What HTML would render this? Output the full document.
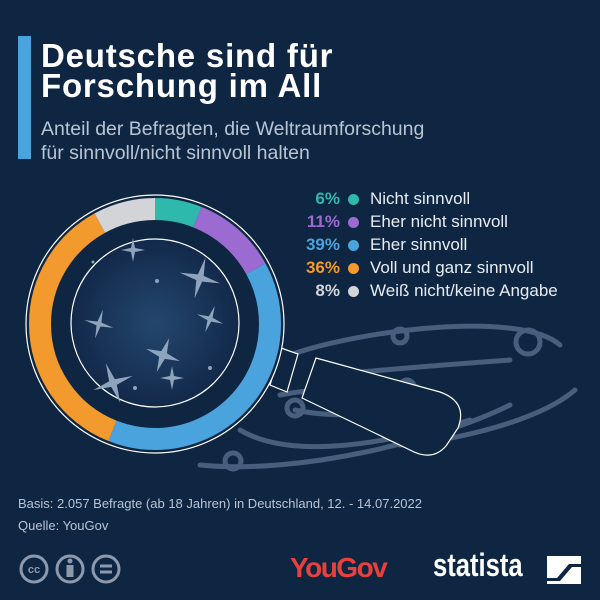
<!DOCTYPE html>
<html><head><meta charset="utf-8"><style>
html,body{margin:0;padding:0}
body{width:600px;height:600px;background:#0f2643;position:relative;overflow:hidden;font-family:"Liberation Sans",sans-serif}
.t{position:absolute;left:41px;color:#fff;font-weight:bold;font-size:33px;line-height:31px;letter-spacing:0.8px}
.s{position:absolute;left:41px;color:#b9c4d3;font-size:19.5px;line-height:24px}
.leg{position:absolute;left:300px;font-size:17px;color:#e8ecf1;height:22px;line-height:22px}
.leg .p{position:absolute;left:0;width:40px;text-align:right;font-weight:bold}
.leg .d{position:absolute;left:48px;top:6px;width:11px;height:11px;border-radius:50%}
.leg .l{position:absolute;left:70px;white-space:nowrap}
.src{position:absolute;left:18px;color:#b9c4d3;font-size:13px;line-height:20px}
</style></head><body>
<div style="position:absolute;left:18px;top:36px;width:13px;height:123px;background:#4aa3dc"></div>
<div class="t" style="top:40px">Deutsche sind für</div>
<div class="t" style="top:70px">Forschung im All</div>
<div class="s" style="top:117px">Anteil der Befragten, die Weltraumforschung</div>
<div class="s" style="top:141px">für sinnvoll/nicht sinnvoll halten</div>

<svg width="600" height="600" style="position:absolute;left:0;top:0">
 <defs><radialGradient id="g" cx="50%" cy="50%" r="50%"><stop offset="0" stop-color="#24476e"/><stop offset="1" stop-color="#12294a"/></radialGradient></defs>
 <g fill="none" stroke="#475e7c" stroke-width="5" stroke-linecap="round">
  <path d="M290 355 C 360 330, 520 310, 560 345"/>
  <path d="M575 390 C 540 420, 460 440, 400 445"/>
  <path d="M330 395 C 350 380, 420 380, 420 390 C 420 415, 340 420, 295 410"/>
  <path d="M280 395 C 330 385, 360 395, 360 410"/>
  <path d="M240 430 C 290 460, 380 445, 470 420"/>
  <path d="M200 465 C 300 475, 440 440, 510 405"/>
  <path d="M330 375 C 380 370, 440 365, 510 360"/>
  <circle cx="400" cy="336" r="7"/><circle cx="528" cy="342" r="12"/><circle cx="407" cy="387" r="7"/>
  <circle cx="295" cy="408" r="8"/><circle cx="233" cy="461" r="8"/>
 </g>
 <path d="M281 348 L298 354 L287 392 L270 385 Z" fill="#0f2643" stroke="#fff" stroke-width="1.2"/>
 <path d="M316 358 L440 392 Q468 402 458 428 L446 446 Q432 462 410 450 L302 398 Z" fill="#0f2643" stroke="#fff" stroke-width="1.2"/>
 <circle cx="155" cy="324" r="129" fill="#0f2643" stroke="#fff" stroke-width="1.2"/>
 <g transform="rotate(-90 155 324)" fill="none" stroke-width="22">
  <circle cx="155" cy="324" r="115" stroke="#2fb8ac" stroke-dasharray="43.4 722.6"/>
  <circle cx="155" cy="324" r="115" stroke="#9b6bd1" stroke-dasharray="0 43.4 79.5 722.6"/>
  <circle cx="155" cy="324" r="115" stroke="#4aa3dc" stroke-dasharray="0 122.9 281.8 722.6"/>
  <circle cx="155" cy="324" r="115" stroke="#f29a2e" stroke-dasharray="0 404.7 260.1 722.6"/>
  <circle cx="155" cy="324" r="115" stroke="#d3d4d8" stroke-dasharray="0 664.8 57.8 722.6"/>
 </g>
 <circle cx="155" cy="323" r="84" fill="url(#g)" stroke="#fff" stroke-width="1.2"/>
 <g fill="#8ea3bc">
  <path d="M160 352 l3 -15 l3 15 l15 3 l-15 3 l-3 15 l-3 -15 l-15 -3 z" transform="rotate(20 163 355)"/>
  <path d="M197 275 l3 -18 l3 18 l18 3 l-18 3 l-3 18 l-3 -18 l-18 -3 z" transform="rotate(15 200 278)"/>
  <path d="M110 380 l3 -18 l3 18 l18 3 l-18 3 l-3 18 l-3 -18 l-18 -3 z" transform="rotate(-20 113 383)"/>
  <path d="M97 322 l2 -13 l2 13 l13 2 l-13 2 l-2 13 l-2 -13 l-13 -2 z" transform="rotate(15 99 324)"/>
  <path d="M208 317 l2 -12 l2 12 l12 2 l-12 2 l-2 12 l-2 -12 l-12 -2 z" transform="rotate(20 210 319)"/>
  <path d="M131 248 l2 -10 l2 10 l10 2 l-10 2 l-2 10 l-2 -10 l-10 -2 z"/>
  <path d="M170 376 l2 -10 l2 10 l10 2 l-10 2 l-2 10 l-2 -10 l-10 -2 z"/>
  <circle cx="157" cy="281" r="2"/><circle cx="210" cy="368" r="2"/><circle cx="135" cy="388" r="2"/><circle cx="93" cy="262" r="1.5"/>
 </g>
</svg>

<div class="leg" style="top:188px"><span class="p" style="color:#2fb8ac">6%</span><span class="d" style="background:#2fb8ac"></span><span class="l">Nicht sinnvoll</span></div>
<div class="leg" style="top:211px"><span class="p" style="color:#9b6bd1">11%</span><span class="d" style="background:#9b6bd1"></span><span class="l">Eher nicht sinnvoll</span></div>
<div class="leg" style="top:234px"><span class="p" style="color:#4aa3dc">39%</span><span class="d" style="background:#4aa3dc"></span><span class="l">Eher sinnvoll</span></div>
<div class="leg" style="top:257px"><span class="p" style="color:#f29a2e">36%</span><span class="d" style="background:#f29a2e"></span><span class="l">Voll und ganz sinnvoll</span></div>
<div class="leg" style="top:280px"><span class="p" style="color:#d3d4d8">8%</span><span class="d" style="background:#d3d4d8"></span><span class="l">Weiß nicht/keine Angabe</span></div>

<div class="src" style="top:494px">Basis: 2.057 Befragte (ab 18 Jahren) in Deutschland, 12. - 14.07.2022</div>
<div class="src" style="top:516px">Quelle: YouGov</div>

<svg width="130" height="40" style="position:absolute;left:14px;top:550px">
 <g fill="none" stroke="#8d9aae" stroke-width="3">
  <circle cx="20" cy="19" r="13"/><circle cx="56" cy="19" r="13"/><circle cx="92" cy="19" r="13"/>
  <path d="M86 16h12M86 22h12"/>
 </g>
 <text x="20" y="23" fill="#8d9aae" font-size="11" font-weight="bold" text-anchor="middle" font-family="Liberation Sans">cc</text>
 <circle cx="56" cy="11" r="2.5" fill="#8d9aae"/><rect x="52.5" y="15" width="7" height="12" fill="#8d9aae"/>
</svg>
<div style="position:absolute;left:290px;top:552px;color:#e8413c;font-weight:bold;font-size:28px;letter-spacing:-1.5px">YouGov</div>
<div style="position:absolute;left:433px;top:547px;color:#fff;font-weight:bold;font-size:32px;transform:scaleX(0.8);transform-origin:left">statista</div>
<svg width="40" height="34" style="position:absolute;left:547px;top:556px"><path d="M0 0H34V8H22L10 22H0Z M34 28H0V25H13L25 11H34Z" fill="#fff"/></svg>
</body></html>
